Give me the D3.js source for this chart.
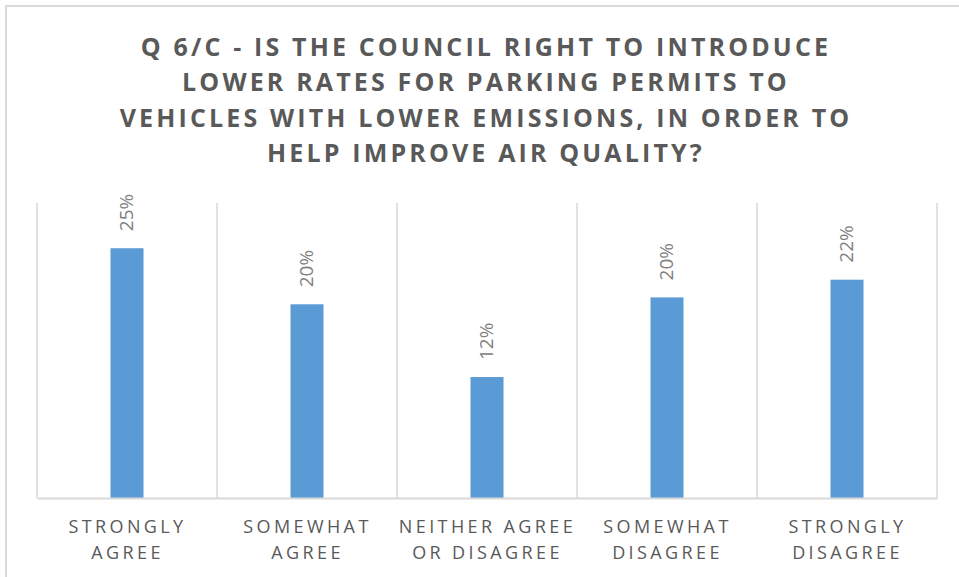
<!DOCTYPE html>
<html>
<head>
<meta charset="utf-8">
<script src="https://cdn.jsdelivr.net/npm/d3@7"></script>
<style>
  html, body { margin: 0; padding: 0; background: #fff; }
  svg { display: block; }
</style>
</head>
<body>
<svg width="959" height="577"></svg>
<script>
const titleLines = [
  'Q 6/C - IS THE COUNCIL RIGHT TO INTRODUCE',
  'LOWER RATES FOR PARKING PERMITS TO',
  'VEHICLES WITH LOWER EMISSIONS, IN ORDER TO',
  'HELP IMPROVE AIR QUALITY?'
]
const categories = [
  ['STRONGLY', 'AGREE'],
  ['SOMEWHAT', 'AGREE'],
  ['NEITHER AGREE', 'OR DISAGREE'],
  ['SOMEWHAT', 'DISAGREE'],
  ['STRONGLY', 'DISAGREE']
]
const values = [0.254, 0.197, 0.123, 0.204, 0.222]

const svg = d3.select('svg')
const font = "'Open Sans', 'DejaVu Sans', sans-serif"

// outer chart frame
svg.append('rect')
  .attr('x', 6).attr('y', 6)
  .attr('width', 970).attr('height', 600)
  .attr('fill', 'none')
  .attr('stroke', '#d9d9d9')
  .attr('stroke-width', 2)

const plot = { left: 37, right: 937, top: 203, bottom: 498 }

const x = d3.scaleBand()
  .domain(d3.range(categories.length))
  .range([plot.left, plot.right])

const y = d3.scaleLinear()
  .domain([0, 0.30])
  .range([plot.bottom, plot.top])

// title
svg.append('text')
  .attr('text-anchor', 'middle')
  .attr('font-family', font)
  .attr('font-weight', 'bold')
  .attr('font-size', 25)
  .attr('letter-spacing', 3.15)
  .attr('fill', '#595959')
  .selectAll('tspan')
  .data(titleLines)
  .join('tspan')
  .attr('x', 486)
  .attr('y', (d, i) => 56 + i * 35.3)
  .text(d => d)

// vertical gridlines at category boundaries
const bounds = d3.range(categories.length + 1).map(i =>
  i < categories.length ? x(i) : x(i - 1) + x.bandwidth())
svg.append('g')
  .selectAll('line')
  .data(bounds)
  .join('line')
  .attr('x1', d => d).attr('x2', d => d)
  .attr('y1', plot.top).attr('y2', plot.bottom)
  .attr('stroke', '#d9d9d9')
  .attr('stroke-width', 1.5)

// bars
const barW = 33
svg.append('g')
  .selectAll('rect')
  .data(values)
  .join('rect')
  .attr('x', (d, i) => x(i) + x.bandwidth() / 2 - barW / 2)
  .attr('y', d => y(d))
  .attr('width', barW)
  .attr('height', d => y(0) - y(d))
  .attr('fill', '#5b9bd5')

// baseline axis
const xAxis = svg.append('g')
  .attr('transform', `translate(0,${plot.bottom})`)
  .call(d3.axisBottom(x).tickSize(0).tickFormat(''))
xAxis.select('.domain').attr('stroke', '#d9d9d9').attr('stroke-width', 2)

// category labels
svg.append('g')
  .selectAll('text')
  .data(categories)
  .join('text')
  .attr('text-anchor', 'middle')
  .attr('font-family', font)
  .attr('font-size', 18)
  .attr('letter-spacing', 3.4)
  .attr('fill', '#595959')
  .each(function (d, i) {
    d3.select(this).selectAll('tspan')
      .data(d)
      .join('tspan')
      .attr('x', x(i) + x.bandwidth() / 2 + 0.5)
      .attr('y', (t, j) => 533 + j * 26)
      .text(t => t)
  })

// value labels
const fmt = d3.format('.0%')
svg.append('g')
  .selectAll('text')
  .data(values)
  .join('text')
  .attr('transform', (d, i) =>
    `translate(${x(i) + x.bandwidth() / 2 + 6},${y(d) - 17}) rotate(-90)`)
  .attr('font-family', font)
  .attr('font-size', 19)
  .attr('fill', '#808080')
  .text(d => fmt(d))
</script>
</body>
</html>
